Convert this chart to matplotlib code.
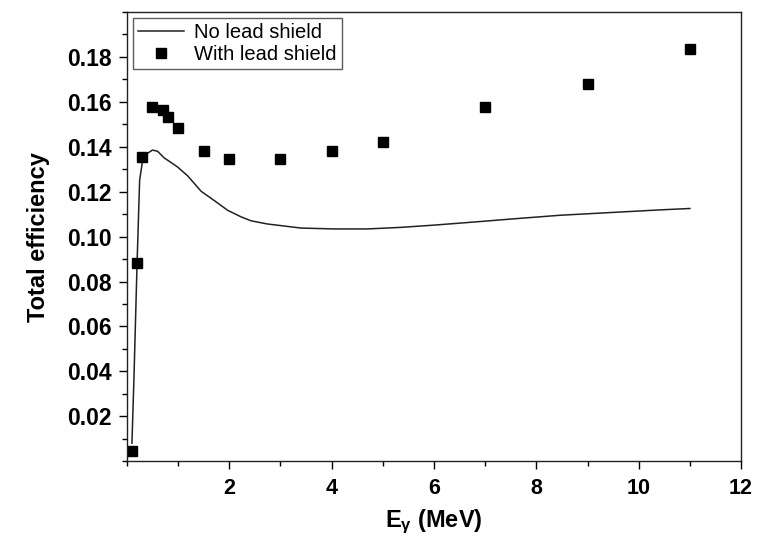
"""Total efficiency vs gamma energy, with and without lead shield."""

import matplotlib

matplotlib.use("Agg")
import matplotlib.pyplot as plt
from matplotlib.ticker import MultipleLocator

plt.rcParams["font.family"] = ["Liberation Sans", "DejaVu Sans"]
plt.rcParams["mathtext.default"] = "regular"

# No lead shield (simulated curve)
curve_e = [0.10, 0.14, 0.20, 0.25, 0.31, 0.40, 0.50, 0.60, 0.73, 0.83, 0.99, 1.19,
           1.45, 1.71, 1.97, 2.23, 2.43, 2.75, 3.40, 4.05, 4.70, 5.35, 6.00, 6.85,
           7.50, 8.47, 9.45, 10.43, 11.0]
curve_eff = [0.008, 0.0375, 0.088, 0.125, 0.1342, 0.137, 0.1385, 0.138, 0.135, 0.1335,
             0.131, 0.127, 0.1202, 0.116, 0.1117, 0.1088, 0.107, 0.1056, 0.1038, 0.1034,
             0.1034, 0.1041, 0.1051, 0.1066, 0.1078, 0.1095, 0.1107, 0.1119, 0.1125]

# With lead shield (measured points)
shield_e = [0.1, 0.2, 0.3, 0.5, 0.7, 0.8, 1.0, 1.5, 2.0, 3.0, 4.0, 5.0, 7.0, 9.0, 11.0]
shield_eff = [0.0045, 0.0884, 0.1353, 0.1576, 0.1565, 0.1532, 0.1485, 0.1382, 0.1345,
              0.1345, 0.1383, 0.1422, 0.1579, 0.1680, 0.1835]

fig = plt.figure(figsize=(7.64, 5.42), dpi=100)
ax = fig.add_axes([0.166, 0.149, 0.804, 0.829])

ax.plot(curve_e, curve_eff, color="#222222", linewidth=1.1, label="No lead shield")
ax.plot(shield_e, shield_eff, linestyle="none", marker="s", markersize=7.5,
        color="black", label="With lead shield")

ax.set_xlim(0, 12)
ax.set_ylim(0, 0.2)
ax.set_xticks([2, 4, 6, 8, 10, 12])
ax.set_yticks([0.02, 0.04, 0.06, 0.08, 0.10, 0.12, 0.14, 0.16, 0.18])
ax.set_yticklabels(["0.02", "0.04", "0.06", "0.08", "0.10", "0.12", "0.14", "0.16", "0.18"])
ax.xaxis.set_minor_locator(MultipleLocator(1))
ax.yaxis.set_minor_locator(MultipleLocator(0.01))
ax.tick_params(which="major", direction="out", length=6, width=1.0, labelsize=16.5)
ax.tick_params(axis="x", which="major", pad=6, labelsize=15.5)
ax.tick_params(axis="y", which="major", pad=5)
ax.tick_params(which="minor", direction="out", length=3.5, width=1.0)
for lbl in ax.get_xticklabels() + ax.get_yticklabels():
    lbl.set_fontweight("bold")
for sp in ax.spines.values():
    sp.set_linewidth(1.0)
    sp.set_color("#222222")

ax.set_xlabel(r"E$_{\gamma}$ (MeV)", fontsize=17, fontweight="bold", labelpad=6)
ax.set_ylabel("Total efficiency", fontsize=17, fontweight="bold", labelpad=12)

leg = ax.legend(loc="upper left", fontsize=14.5, frameon=True, fancybox=False,
                borderpad=0.25, handlelength=2.3, handletextpad=0.5,
                labelspacing=0.15, borderaxespad=0.3)
leg.get_frame().set_edgecolor("#333333")
leg.get_frame().set_linewidth(1.0)

fig.savefig("out.png", dpi=100)
